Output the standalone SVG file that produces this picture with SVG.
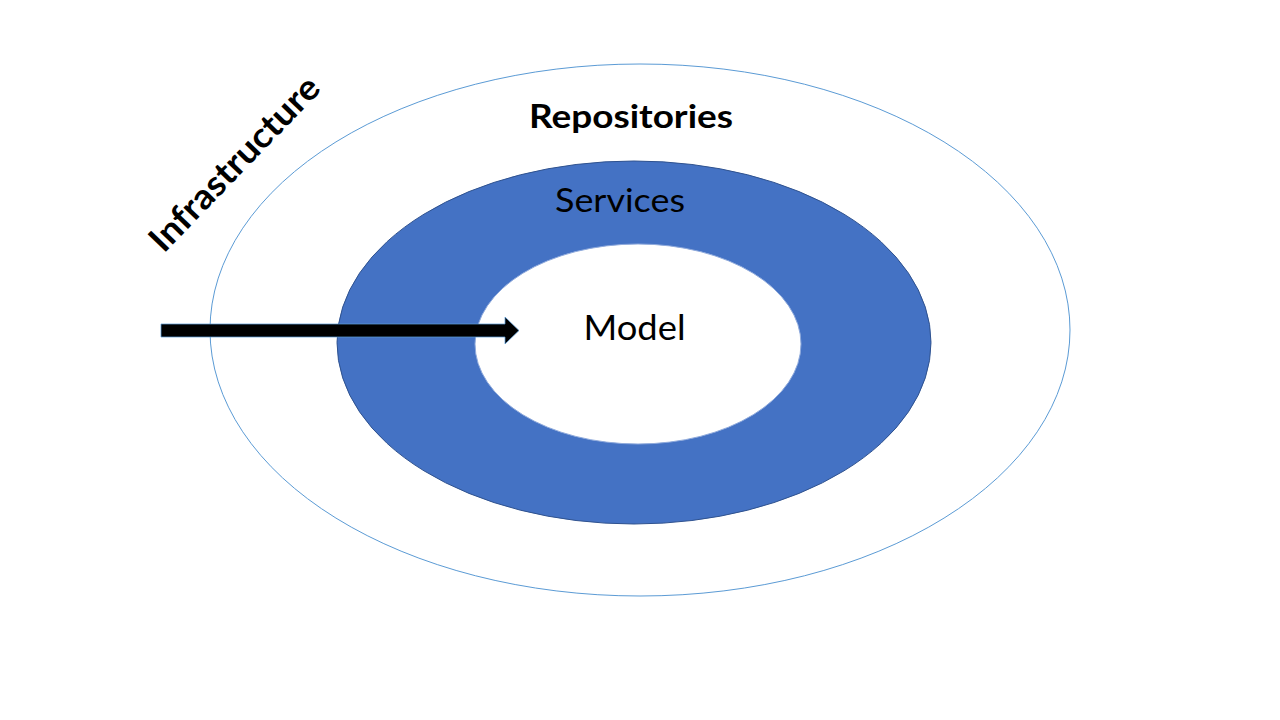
<svg xmlns="http://www.w3.org/2000/svg" width="1280" height="720" viewBox="0 0 1280 720">
<style>
.lbl{font-family:Lato,"Open Sans","Liberation Sans",sans-serif;fill:#000;text-anchor:middle}
.b{font-weight:bold}
</style>
<rect width="1280" height="720" fill="#fff"/>
<g id="infrastructure">
<ellipse cx="640" cy="330" rx="430" ry="266" fill="#fff" stroke="#5B9BD5" stroke-width="1"/>
<text class="lbl b" transform="translate(243,172) rotate(-46)" x="0" y="0" font-size="35" textLength="228" lengthAdjust="spacingAndGlyphs">Infrastructure</text>
</g>
<g id="repositories">
<text class="lbl b" x="631" y="128" font-size="33" textLength="204" lengthAdjust="spacingAndGlyphs">Repositories</text>
</g>
<g id="services">
<ellipse cx="634" cy="342.5" rx="297" ry="181.5" fill="#4472C4" stroke="#2F528F" stroke-width="1"/>
<text class="lbl" x="620" y="212" font-size="33" textLength="130" lengthAdjust="spacingAndGlyphs">Services</text>
</g>
<g id="model">
<ellipse cx="638" cy="344" rx="163" ry="100" fill="#fff" stroke="#8FAADC" stroke-width="1"/>
<text class="lbl" x="634.5" y="340" font-size="34" textLength="102" lengthAdjust="spacingAndGlyphs">Model</text>
</g>
<g id="connectors">
<path d="M161,324 L505,324 L505,317 L519,330.5 L505,344 L505,337 L161,337 Z" fill="#000" stroke="#5B9BD5" stroke-width="0.75"/>
</g>
</svg>
